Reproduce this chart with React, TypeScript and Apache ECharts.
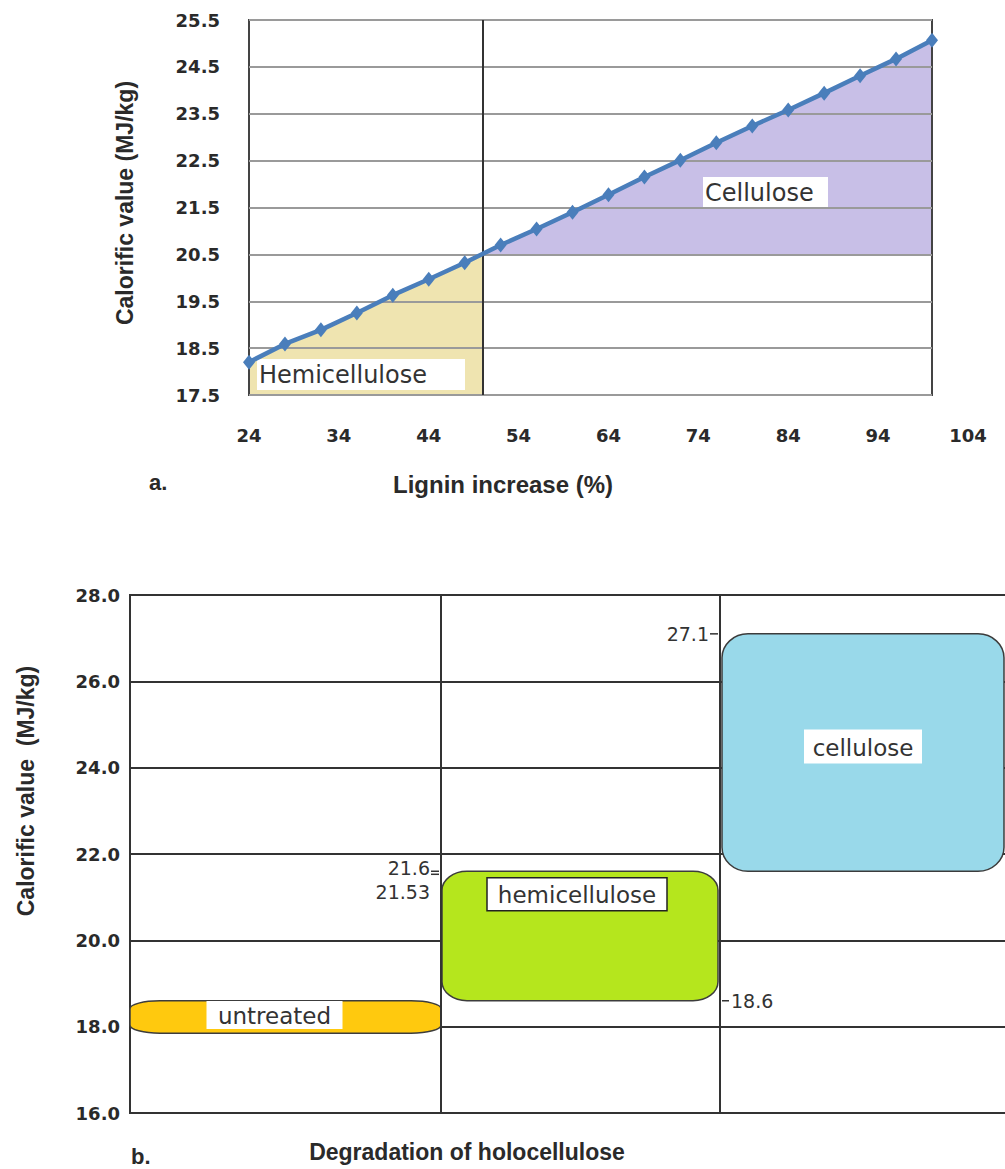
import React, { useEffect, useRef } from 'react';
import * as echarts from 'echarts';

// ---------- Chart a data ----------
const ligninIncrease = [24, 28, 32, 36, 40, 44, 48, 52, 56, 60, 64, 68, 72, 76, 80, 84, 88, 92, 96, 100];
const calorificA = [18.2, 18.59, 18.89, 19.25, 19.63, 19.97, 20.32, 20.7, 21.04, 21.4, 21.77, 22.15, 22.51, 22.88, 23.24, 23.58, 23.94, 24.31, 24.67, 25.07];
const dividerLignin = 50;
const dividerCalorific = 20.5;
const yMinA = 17.5;
const yMaxA = 25.5;
const xTickStartA = 24;
const xTickEndA = 104;

// ---------- Chart b data ----------
const stages = ['untreated', 'hemicellulose', 'cellulose'];
const stageLow = [17.85, 18.6, 21.6];
const stageHigh = [18.6, 21.6, 27.1];
const annotValues = [27.1, 21.6, 21.53, 18.6];
const annotTexts = ['27.1', '21.6', '21.53', '18.6'];

// ---------- layout (not data) ----------
const COL_START = [0, 312, 592];
const COL_END = [311, 588, 874];
const COL_LINES = [311, 590];
const BOX_STYLE = [
  { fill: '#FFC90E', rx: 30, ry: 8, lw: 136, lh: 28, dx: -11, dy: -2, anchor: 'mid', border: false },
  { fill: '#B5E61D', rx: 25, ry: 19, lw: 180, lh: 33, dx: -3, dy: 23, anchor: 'top', border: true },
  { fill: '#99D9EA', rx: 26, ry: 24, lw: 118, lh: 34, dx: 0, dy: -6, anchor: 'mid', border: false },
];
const ANNOT = [
  { edge: 590, side: 'left', tdy: 0 },
  { edge: 311, side: 'left', tdy: -3 },
  { edge: 311, side: 'left', tdy: 18 },
  { edge: 590, side: 'right', tdy: 0 },
];

const TICK_FONT = 'DejaVu Sans';
const TITLE_FONT = 'Liberation Sans';

export default function App() {
  const ref = useRef<HTMLDivElement>(null);

  useEffect(() => {
    document.body.style.margin = '0';
    document.body.style.overflow = 'hidden';
    document.documentElement.style.overflow = 'hidden';
    if (!ref.current) return;
    const chart = echarts.init(ref.current, null, { renderer: 'svg' });

    const linePts = ligninIncrease.map((x, i) => [x, calorificA[i]]);
    const hemiArea = [
      ...ligninIncrease.map((x, i) => [x, calorificA[i]]).filter((p) => p[0] < dividerLignin),
      [dividerLignin, dividerCalorific],
    ];
    const celluloseArea = [
      [dividerLignin, dividerCalorific],
      ...ligninIncrease.map((x, i) => [x, calorificA[i]]).filter((p) => p[0] > dividerLignin),
    ];

    const boxData = stages.map((s, i) => [COL_START[i], stageLow[i], COL_END[i], stageHigh[i]]);

    const boxRender = (params: any, api: any) => {
      const i = params.dataIndex;
      const st = BOX_STYLE[i];
      const tl = api.coord([api.value(0), api.value(3)]);
      const br = api.coord([api.value(2), api.value(1)]);
      const x0 = tl[0], y0 = tl[1], x1 = br[0], y1 = br[1];
      const rx = st.rx, ry = st.ry;
      const d =
        `M${x0 + rx},${y0} L${x1 - rx},${y0} A${rx},${ry} 0 0 1 ${x1},${y0 + ry} ` +
        `L${x1},${y1 - ry} A${rx},${ry} 0 0 1 ${x1 - rx},${y1} L${x0 + rx},${y1} ` +
        `A${rx},${ry} 0 0 1 ${x0},${y1 - ry} L${x0},${y0 + ry} A${rx},${ry} 0 0 1 ${x0 + rx},${y0} Z`;
      const cx = (x0 + x1) / 2 + st.dx;
      const cy = st.anchor === 'top' ? y0 + st.dy : (y0 + y1) / 2 + st.dy;
      return {
        type: 'group',
        children: [
          { type: 'path', shape: { pathData: d }, style: { fill: st.fill, stroke: '#3c3c3c', lineWidth: 1.5 } },
          {
            type: 'rect',
            shape: { x: cx - st.lw / 2, y: cy - st.lh / 2, width: st.lw, height: st.lh },
            style: { fill: '#ffffff', stroke: st.border ? '#222' : null, lineWidth: st.border ? 1.5 : 0 },
          },
          {
            type: 'text',
            style: {
              text: stages[i], x: cx, y: cy + 1, align: 'center', verticalAlign: 'middle',
              font: `23px "${TICK_FONT}"`, fill: '#333',
            },
          },
        ],
      };
    };

    const annotRender = (params: any, api: any) => {
      const i = params.dataIndex;
      const a = ANNOT[i];
      const p = api.coord([api.value(0), api.value(1)]);
      const left = a.side === 'left';
      const lx0 = left ? p[0] - 10 : p[0] + 2;
      const lx1 = left ? p[0] - 2 : p[0] + 9;
      const tx = left ? p[0] - 11 : p[0] + 11;
      return {
        type: 'group',
        children: [
          { type: 'line', shape: { x1: lx0, y1: p[1], x2: lx1, y2: p[1] }, style: { stroke: '#333', lineWidth: 1.5 } },
          {
            type: 'text',
            style: {
              text: annotTexts[i], x: tx, y: p[1] + a.tdy,
              align: left ? 'right' : 'left', verticalAlign: 'middle',
              font: `19px "${TICK_FONT}"`, fill: '#333',
            },
          },
        ],
      };
    };

    const tickLabel = {
      fontFamily: TICK_FONT, fontWeight: 'bold', fontSize: 18, color: '#2a2a2a',
    };

    chart.setOption({
      animation: false,
      grid: [
        { left: 249, top: 20, width: 683, height: 375, show: true, borderColor: '#444', borderWidth: 2, backgroundColor: 'transparent' },
        { left: 249, top: 20, width: 719, height: 375 },
        { left: 130, top: 595, width: 882, height: 518, show: true, borderColor: '#333', borderWidth: 2, backgroundColor: 'transparent' },
      ],
      xAxis: [
        { gridIndex: 0, type: 'value', min: xTickStartA, max: 100, show: false, splitLine: { show: false } },
        {
          gridIndex: 1, type: 'value', min: xTickStartA, max: xTickEndA, interval: 10,
          axisLine: { show: false }, axisTick: { show: false }, splitLine: { show: false },
          axisLabel: { ...tickLabel, margin: 31 },
        },
        { gridIndex: 2, type: 'value', min: 0, max: 882, show: false, splitLine: { show: false } },
      ],
      yAxis: [
        {
          gridIndex: 0, type: 'value', min: yMinA, max: yMaxA, interval: 1,
          axisLine: { show: false }, axisTick: { show: false },
          axisLabel: { ...tickLabel, margin: 29, formatter: (v: number) => v.toFixed(1) },
          splitLine: { lineStyle: { color: '#9a9a9a', width: 2 } },
        },
        { gridIndex: 1, type: 'value', min: yMinA, max: yMaxA, show: false, splitLine: { show: false } },
        {
          gridIndex: 2, type: 'value', min: 16, max: 28, interval: 2,
          axisLine: { show: false }, axisTick: { show: false },
          axisLabel: { ...tickLabel, margin: 10, formatter: (v: number) => v.toFixed(1) },
          splitLine: { lineStyle: { color: '#333', width: 2 } },
        },
      ],
      series: [
        {
          type: 'line', xAxisIndex: 0, yAxisIndex: 0, data: hemiArea, symbol: 'none', z: -1,
          lineStyle: { width: 0 }, areaStyle: { color: '#EFE4B0', opacity: 1, origin: 'start' }, silent: true,
        },
        {
          type: 'line', xAxisIndex: 0, yAxisIndex: 0, data: celluloseArea, symbol: 'none', z: -1,
          lineStyle: { width: 0 }, areaStyle: { color: '#C8BFE7', opacity: 1, origin: dividerCalorific }, silent: true,
          markLine: {
            silent: true, symbol: 'none', label: { show: false },
            lineStyle: { color: '#333', width: 2, type: 'solid' },
            data: [{ xAxis: dividerLignin }], z: 5,
          },
        },
        {
          type: 'line', xAxisIndex: 0, yAxisIndex: 0, data: linePts, z: 10,
          symbol: 'diamond', symbolSize: [12, 15], color: '#4A7EBB',
          lineStyle: { color: '#4A7EBB', width: 4.5 }, itemStyle: { color: '#4A7EBB' },
        },
        {
          type: 'custom', xAxisIndex: 2, yAxisIndex: 2, data: boxData, renderItem: boxRender,
          encode: { x: [0, 2], y: [1, 3] }, z: 3,
          markLine: {
            silent: true, symbol: 'none', label: { show: false },
            lineStyle: { color: '#333', width: 2, type: 'solid' },
            data: COL_LINES.map((v) => ({ xAxis: v })),
          },
        },
        {
          type: 'custom', xAxisIndex: 2, yAxisIndex: 2,
          data: annotValues.map((v, i) => [ANNOT[i].edge, v]), renderItem: annotRender,
          encode: { x: 0, y: 1 }, z: 4,
        },
      ],
      graphic: [
        // chart a labels
        { type: 'rect', z: 5, shape: { x: 257, y: 359, width: 208, height: 31 }, style: { fill: '#fff' } },
        { type: 'text', z: 6, x: 259, y: 375, style: { text: 'Hemicellulose', font: `24px "${TICK_FONT}"`, fill: '#333', verticalAlign: 'middle', align: 'left' } },
        { type: 'rect', z: 5, shape: { x: 703, y: 177, width: 125, height: 30 }, style: { fill: '#fff' } },
        { type: 'text', z: 6, x: 705, y: 193, style: { text: 'Cellulose', font: `24px "${TICK_FONT}"`, fill: '#333', verticalAlign: 'middle', align: 'left' } },
        // chart a titles
        { type: 'text', x: 125, y: 203, rotation: Math.PI / 2, style: { text: 'Calorific value (MJ/kg)', font: `bold 23px "${TITLE_FONT}"`, fill: '#2a2a2a', align: 'center', verticalAlign: 'middle' } },
        { type: 'text', x: 503, y: 484, style: { text: 'Lignin increase (%)', font: `bold 24px "${TITLE_FONT}"`, fill: '#2a2a2a', align: 'center', verticalAlign: 'middle' } },
        { type: 'text', x: 149, y: 482, style: { text: 'a.', font: `bold 22px "${TITLE_FONT}"`, fill: '#2a2a2a', align: 'left', verticalAlign: 'middle' } },
        // chart b titles
        { type: 'text', x: 26, y: 791, rotation: Math.PI / 2, style: { text: 'Calorific value  (MJ/kg)', font: `bold 23px "${TITLE_FONT}"`, fill: '#2a2a2a', align: 'center', verticalAlign: 'middle' } },
        { type: 'text', x: 467, y: 1152, style: { text: 'Degradation of holocellulose', font: `bold 23px "${TITLE_FONT}"`, fill: '#2a2a2a', align: 'center', verticalAlign: 'middle' } },
        { type: 'text', x: 131, y: 1156, style: { text: 'b.', font: `bold 22px "${TITLE_FONT}"`, fill: '#2a2a2a', align: 'left', verticalAlign: 'middle' } },
      ],
    });

    return () => chart.dispose();
  }, []);

  return <div ref={ref} style={{ width: 1020, height: 1169 }} />;
}
